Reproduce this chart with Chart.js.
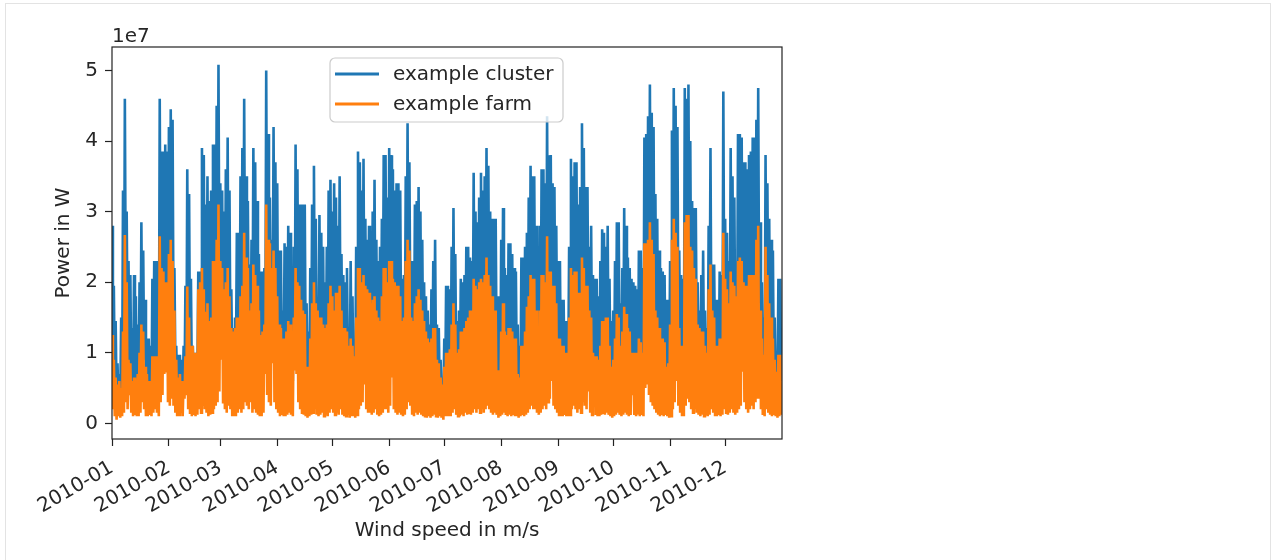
<!DOCTYPE html>
<html>
<head>
<meta charset="utf-8">
<script src="https://cdn.jsdelivr.net/npm/chart.js@4.4.0/dist/chart.umd.min.js"></script>
<style>
  html, body { margin: 0; padding: 0; background: #fff; }
  #frame { position: absolute; left: 5px; top: 3px; width: 1264px; height: 600px; border: 1px solid #e3e3e3; }
  #wrap { position: absolute; left: 0; top: 0; width: 1274px; height: 560px; }
</style>
</head>
<body>
<div id="frame"></div>
<div id="wrap"><canvas id="powerChart" width="1274" height="560"></canvas></div>
<script>
// power values in units of 1e7 W, one high and one low reading per day of 2010
const clusterMax = [
  2.8, 1.95, 1.45, 0.85, 0.7, 1.5, 3.3, 4.6, 3.0, 2.3,
  2.1, 1.35, 2.1, 1.8, 1.4, 2.0, 2.85, 2.45, 1.75, 1.2,
  1.2, 1.1, 2.05, 2.3, 2.3, 1.1, 4.6, 3.85, 3.85, 3.95,
  3.85, 4.2, 4.45, 4.3, 2.2, 1.1, 0.97, 0.97, 0.9, 1.1,
  1.95, 3.6, 3.25, 2.05, 1.1, 1.0, 1.0, 2.15, 2.15, 3.9,
  3.8, 3.1, 3.5, 3.15, 3.3, 3.95, 3.95, 4.5, 5.08, 3.4,
  3.3, 3.0, 3.6, 4.05, 3.3, 1.9, 1.35, 1.5, 2.7, 2.7,
  3.5, 3.9, 4.6, 3.5, 3.15, 2.25, 2.6, 3.9, 3.7, 3.15,
  2.4, 2.15, 2.15, 2.2, 5.0, 4.1, 3.2, 2.6, 4.2, 3.7,
  3.4, 2.45, 2.45, 1.6, 2.55, 2.5, 2.8, 2.7, 1.5, 2.5,
  3.95, 3.6, 3.1, 3.1, 3.1, 3.1, 1.7, 1.3, 2.2, 3.1,
  3.65, 2.9, 1.6, 2.95, 2.7, 2.5, 2.0, 2.5, 3.3, 3.45,
  3.0, 3.4, 3.2, 2.8, 3.5, 2.4, 2.1, 2.0, 2.2, 1.35,
  2.3, 1.8, 1.1, 2.5, 3.85, 3.7, 3.3, 3.75, 2.9, 2.6,
  2.8, 2.4, 3.0, 3.45, 2.6, 2.3, 2.5, 2.9, 3.8, 3.8,
  3.2, 3.9, 3.8, 3.6, 3.3, 3.4, 3.4, 3.3, 2.05, 2.1,
  3.5, 4.25, 3.7, 2.3, 2.3, 3.1, 3.15, 3.35, 3.0, 2.6,
  2.0, 1.8, 1.6, 1.4, 1.9, 2.3, 2.6, 1.4, 1.35, 0.9,
  0.55, 1.2, 1.95, 1.95, 1.9, 2.5, 3.05, 2.4, 1.45, 1.6,
  2.05, 2.0, 2.1, 2.5, 2.5, 2.35, 2.3, 3.55, 3.0, 2.85,
  3.2, 3.55, 3.3, 3.5, 3.9, 3.65, 3.0, 2.9, 2.9, 2.9,
  1.8, 1.8, 2.6, 3.05, 2.2, 2.1, 2.55, 2.55, 2.4, 2.2,
  2.15, 1.4, 1.1, 2.35, 2.35, 2.5, 2.7, 3.2, 3.65, 3.5,
  3.5, 2.8, 2.35, 2.8, 3.6, 3.6, 3.4, 4.35, 3.8, 3.8,
  3.4, 3.35, 2.8, 2.3, 2.3, 1.75, 1.75, 1.45, 1.45, 2.5,
  3.75, 3.5, 3.7, 3.7, 3.1, 3.35, 4.25, 3.9, 3.35, 3.35,
  2.5, 2.8, 2.1, 2.05, 2.05, 1.8, 2.3, 2.75, 2.7, 2.5,
  2.8, 2.05, 1.45, 1.6, 2.3, 2.85, 2.85, 1.7, 2.2, 3.05,
  2.8, 2.35, 2.2, 2.05, 2.0, 1.95, 1.9, 2.45, 2.45, 2.2,
  4.05, 4.1, 4.35, 4.8, 4.4, 4.2, 3.25, 2.9, 2.45, 2.2,
  2.15, 2.1, 1.75, 1.75, 2.3, 4.15, 4.75, 4.5, 4.2, 2.45,
  2.1, 2.05, 4.75, 4.6, 4.8, 4.0, 3.15, 3.05, 3.05, 2.0,
  1.6, 2.1, 2.45, 1.6, 1.35, 2.8, 3.9, 2.25, 2.25, 1.75,
  1.75, 2.15, 2.1, 4.7, 2.9, 2.7, 2.3, 3.9, 3.5, 3.2,
  2.3, 4.1, 4.1, 4.05, 3.7, 3.7, 3.6, 3.8, 3.85, 4.05,
  4.05, 4.3, 4.75, 2.85, 2.0, 1.5, 3.8, 3.4, 2.9, 2.6,
  2.45, 1.5, 0.9, 2.05, 2.05
];
const clusterMin = [
  0.9, 0.6, 0.35, 0.3, 0.3, 0.35, 0.8, 1.8, 1.2, 0.7,
  0.6, 0.4, 0.45, 0.4, 0.45, 0.7, 1.0, 0.9, 0.5, 0.45,
  0.4, 0.4, 0.6, 0.7, 0.6, 0.4, 1.6, 1.4, 1.3, 1.2,
  1.3, 1.5, 1.6, 1.4, 0.9, 0.5, 0.4, 0.45, 0.4, 0.5,
  0.6, 1.2, 0.9, 0.6, 0.6, 0.6, 0.6, 1.1, 1.2, 1.3,
  1.2, 1.0, 1.0, 0.9, 0.9, 1.4, 1.4, 1.6, 1.9, 1.4,
  1.3, 1.1, 1.2, 1.3, 1.1, 0.8, 0.7, 0.8, 0.9, 0.9,
  1.1, 1.2, 1.6, 1.4, 1.3, 1.0, 1.0, 1.3, 1.2, 1.1,
  0.9, 0.7, 0.8, 0.9, 1.8, 1.6, 1.5, 1.3, 1.5, 1.3,
  1.1, 0.8, 0.8, 0.7, 0.7, 0.8, 0.9, 0.8, 0.6, 0.9,
  1.3, 1.2, 1.2, 1.0, 1.0, 0.9, 0.45, 0.45, 0.7, 1.0,
  1.2, 1.0, 0.9, 0.9, 0.9, 0.8, 0.8, 0.8, 1.0, 1.2,
  1.1, 1.0, 1.1, 1.1, 1.2, 0.9, 0.8, 0.8, 0.8, 0.6,
  0.7, 0.6, 0.5, 0.9, 1.3, 1.3, 1.2, 1.3, 1.2, 1.1,
  1.1, 1.0, 1.0, 1.1, 0.9, 0.9, 0.9, 1.1, 1.3, 1.3,
  1.2, 1.4, 1.4, 1.2, 1.2, 1.2, 1.2, 1.1, 0.9, 0.9,
  1.4, 1.5, 1.5, 0.9, 0.9, 1.0, 1.1, 1.1, 1.0, 0.9,
  0.8, 0.7, 0.7, 0.7, 0.7, 0.8, 0.8, 0.5, 0.5, 0.4,
  0.3, 0.5, 0.6, 0.6, 0.6, 0.8, 1.0, 0.8, 0.6, 0.6,
  0.8, 0.8, 0.8, 0.9, 0.9, 1.0, 1.0, 1.2, 1.2, 1.1,
  1.2, 1.2, 1.2, 1.3, 1.4, 1.3, 1.2, 1.1, 1.0, 1.0,
  0.45, 0.45, 0.8, 1.0, 0.8, 0.75, 0.8, 0.8, 0.8, 0.7,
  0.7, 0.4, 0.4, 0.7, 0.7, 0.8, 1.0, 1.1, 1.3, 1.2,
  1.2, 1.0, 0.8, 1.0, 1.3, 1.3, 1.2, 1.6, 1.3, 1.3,
  1.2, 1.2, 1.0, 0.7, 0.7, 0.65, 0.65, 0.6, 0.6, 0.9,
  1.3, 1.3, 1.3, 1.3, 1.1, 1.1, 1.4, 1.3, 1.2, 1.2,
  1.0, 0.9, 0.6, 0.6, 0.55, 0.55, 0.65, 0.9, 0.9, 0.9,
  0.9, 0.65, 0.5, 0.55, 0.7, 0.95, 0.9, 0.65, 0.8, 1.0,
  0.95, 0.8, 0.8, 0.6, 0.6, 0.6, 0.6, 0.7, 0.7, 0.6,
  1.5, 1.5, 1.6, 1.7, 1.6, 1.4, 1.0, 0.9, 0.8, 0.7,
  0.7, 0.7, 0.5, 0.5, 0.8, 1.6, 1.7, 1.6, 1.5, 0.8,
  0.65, 0.65, 1.7, 1.8, 1.8, 1.5, 1.5, 1.3, 1.2, 0.85,
  0.8, 0.8, 0.8, 0.65, 0.6, 1.1, 1.3, 1.0, 0.9, 0.65,
  0.65, 0.7, 0.7, 1.6, 1.2, 1.1, 1.0, 1.3, 1.2, 1.2,
  1.1, 1.4, 1.4, 1.4, 1.2, 1.2, 1.2, 1.3, 1.3, 1.3,
  1.3, 1.6, 1.7, 1.0, 0.7, 0.6, 1.5, 1.3, 1.0, 0.9,
  0.7, 0.55, 0.45, 0.6, 0.6
];
const farmMax = [
  1.25, 0.9, 0.65, 0.55, 0.6, 0.5, 1.3, 2.67, 2.0, 0.9,
  0.85, 0.6, 0.65, 0.6, 0.7, 1.0, 1.4, 1.3, 0.8, 0.7,
  0.6, 0.6, 0.95, 0.95, 0.95, 0.6, 2.65, 2.2, 2.15, 2.0,
  2.0, 2.4, 2.6, 2.3, 1.6, 0.9, 0.65, 0.7, 0.6, 0.6,
  0.95, 1.94, 1.5, 1.1, 1.1, 1.0, 1.0, 1.9, 2.0, 2.2,
  1.9, 1.58, 1.7, 1.45, 1.5, 2.3, 2.3, 2.6, 3.1, 2.3,
  2.2, 1.9, 2.0, 2.2, 1.8, 1.35, 1.3, 1.35, 1.5, 1.5,
  1.8, 1.95, 2.7, 2.35, 2.2, 1.6, 1.7, 2.25, 2.1, 1.95,
  1.6, 1.25, 1.3, 1.4, 3.1, 2.6, 2.55, 2.2, 2.45, 2.2,
  1.8, 1.4, 1.35, 1.2, 1.2, 1.3, 1.45, 1.4, 1.1, 1.5,
  2.2, 2.0, 1.95, 1.75, 1.6, 1.55, 0.8, 0.8, 1.2, 1.7,
  2.0, 1.7, 1.6, 1.5, 1.5, 1.4, 1.35, 1.4, 1.7, 1.95,
  1.8, 1.6, 1.85, 1.85, 1.95, 1.6, 1.35, 1.35, 1.3, 1.1,
  1.2, 1.1, 0.95, 1.5, 2.2, 2.2, 2.0, 2.1, 1.95, 1.9,
  1.85, 1.7, 1.75, 1.8, 1.6, 1.5, 1.45, 1.8, 2.2, 2.2,
  2.0, 2.3, 2.3, 2.05, 2.0, 1.95, 1.95, 1.8, 1.45, 1.5,
  2.3, 2.6, 2.45, 1.5, 1.45, 1.7, 1.8, 1.9, 1.75, 1.6,
  1.45, 1.3, 1.2, 1.15, 1.2, 1.35, 1.35, 0.9, 0.85, 0.65,
  0.55, 0.8, 1.0, 1.0, 1.05, 1.4, 1.7, 1.4, 1.0, 1.05,
  1.3, 1.3, 1.35, 1.45, 1.5, 1.6, 1.6, 2.05, 1.95, 1.9,
  2.0, 2.05, 2.0, 2.1, 2.35, 2.1, 1.95, 1.8, 1.6, 1.6,
  0.75, 0.75, 1.3, 1.7, 1.3, 1.25, 1.35, 1.35, 1.3, 1.2,
  1.2, 0.7, 0.65, 1.1, 1.1, 1.3, 1.65, 1.8, 2.1, 2.05,
  2.05, 1.6, 1.35, 1.6, 2.1, 2.1, 2.0, 2.65, 2.15, 2.15,
  1.95, 1.95, 1.7, 1.2, 1.2, 1.1, 1.1, 1.0, 1.0, 1.5,
  2.2, 2.1, 2.15, 2.15, 1.85, 1.85, 2.35, 2.2, 1.95, 1.95,
  1.6, 1.5, 1.0, 0.95, 0.95, 0.9, 1.1, 1.45, 1.45, 1.5,
  1.5, 1.1, 0.8, 0.9, 1.2, 1.55, 1.5, 1.1, 1.3, 1.65,
  1.55, 1.35, 1.3, 1.0, 1.0, 1.0, 1.0, 1.2, 1.15, 1.0,
  2.55, 2.55, 2.6, 2.85, 2.6, 2.4, 1.6, 1.5, 1.35, 1.2,
  1.2, 1.15, 0.8, 0.85, 1.4, 2.6, 2.9, 2.7, 2.5, 1.35,
  1.1, 1.1, 2.85, 2.95, 2.95, 2.5, 2.45, 2.2, 2.05, 1.4,
  1.35, 1.3, 1.3, 1.1, 1.0, 1.9, 2.25, 1.6, 1.5, 1.1,
  1.1, 1.2, 1.2, 2.7, 2.05, 1.9, 1.7, 2.15, 2.0, 1.95,
  1.8, 2.3, 2.35, 2.3, 2.0, 1.95, 1.95, 2.1, 2.1, 2.1,
  2.1, 2.6, 2.8, 1.6, 1.2, 0.97, 2.5, 2.1, 1.7, 1.5,
  1.2, 0.9, 0.73, 0.97, 0.97
];
const farmMin = [
  0.2, 0.1, 0.05, 0.1, 0.08, 0.1, 0.15, 0.3, 0.2, 0.4,
  0.15, 0.1, 0.12, 0.1, 0.1, 0.15, 0.3, 0.2, 0.1, 0.1,
  0.12, 0.1, 0.15, 0.2, 0.15, 0.1, 0.3, 0.4, 0.7, 0.72,
  0.3, 0.25, 0.35, 0.25, 0.15, 0.1, 0.12, 0.15, 0.1, 0.35,
  0.4, 0.2, 0.15, 0.1, 0.12, 0.1, 0.12, 0.2, 0.15, 0.25,
  0.2, 0.15, 0.1, 0.12, 0.15, 0.2, 0.25, 0.3, 0.45, 0.9,
  0.3, 0.2, 0.15, 0.25, 0.2, 0.1, 0.12, 0.1, 0.15, 0.2,
  0.15, 0.2, 0.3, 0.25, 0.2, 0.3, 0.15, 0.2, 0.15, 0.12,
  0.1, 0.1, 0.15, 0.7, 0.4, 0.3, 0.25, 0.85, 0.3, 0.2,
  0.15, 0.1, 0.12, 0.1, 0.1, 0.12, 0.15, 0.12, 0.1, 0.75,
  0.7, 0.3, 0.2, 0.15, 0.12, 0.1, 0.08, 0.1, 0.12, 0.15,
  0.2, 0.12, 0.1, 0.12, 0.15, 0.1, 0.12, 0.1, 0.15, 0.2,
  0.15, 0.12, 0.15, 0.12, 0.2, 0.12, 0.1, 0.1, 0.12, 0.08,
  0.1, 0.1, 0.08, 0.12, 0.2, 0.25, 0.3, 0.55, 0.2, 0.15,
  0.15, 0.12, 0.15, 0.2, 0.12, 0.1, 0.12, 0.15, 0.2, 0.2,
  0.15, 0.25, 0.65, 0.2, 0.15, 0.12, 0.15, 0.12, 0.1, 0.12,
  0.2, 0.3, 0.25, 0.12, 0.1, 0.15, 0.12, 0.15, 0.12, 0.1,
  0.1, 0.08, 0.1, 0.08, 0.1, 0.12, 0.1, 0.08, 0.1, 0.08,
  0.05, 0.1, 0.12, 0.1, 0.1, 0.15, 0.2, 0.12, 0.1, 0.1,
  0.12, 0.1, 0.15, 0.12, 0.15, 0.12, 0.15, 0.2, 0.15, 0.2,
  0.15, 0.2, 0.15, 0.2, 0.25, 0.2, 0.15, 0.12, 0.15, 0.12,
  0.08, 0.1, 0.12, 0.15, 0.12, 0.1, 0.12, 0.1, 0.12, 0.1,
  0.1, 0.08, 0.1, 0.12, 0.1, 0.12, 0.15, 0.2, 0.25, 0.2,
  0.2, 0.15, 0.12, 0.15, 0.2, 0.25, 0.2, 0.3, 0.35, 0.6,
  0.25, 0.2, 0.15, 0.12, 0.1, 0.1, 0.12, 0.1, 0.1, 0.12,
  0.2, 0.25, 0.2, 0.15, 0.2, 0.15, 0.3, 0.25, 0.2, 0.45,
  0.15, 0.12, 0.55, 0.12, 0.1, 0.1, 0.12, 0.15, 0.12, 0.15,
  0.12, 0.1, 0.08, 0.1, 0.12, 0.15, 0.12, 0.1, 0.12, 0.15,
  0.12, 0.1, 0.12, 0.4, 0.12, 0.1, 0.12, 0.1, 0.12, 0.1,
  0.5, 0.55, 0.4, 0.3, 0.25, 0.2, 0.15, 0.12, 0.1, 0.12,
  0.1, 0.12, 0.1, 0.08, 0.1, 0.2, 0.3, 0.6, 0.25, 0.15,
  0.12, 0.1, 0.25, 0.35, 0.3, 0.2, 0.15, 0.2, 0.15, 0.12,
  0.1, 0.12, 0.1, 0.12, 0.1, 0.12, 0.2, 0.15, 0.12, 0.1,
  0.12, 0.1, 0.12, 0.2, 0.15, 0.12, 0.15, 0.2, 0.15, 0.12,
  0.15, 0.2, 0.25, 0.73, 0.3, 0.2, 0.15, 0.2, 0.25, 0.2,
  0.3, 0.35, 0.35, 0.2, 0.12, 0.1, 0.2, 0.15, 0.12, 0.1,
  0.12, 0.1, 0.08, 0.1, 0.12
];

// month starts as day-of-year, and their tick labels
const monthStarts = [0, 31, 59, 90, 120, 151, 181, 212, 243, 273, 304, 334];
const monthLabels = ['2010-01', '2010-02', '2010-03', '2010-04', '2010-05', '2010-06',
                     '2010-07', '2010-08', '2010-09', '2010-10', '2010-11', '2010-12'];
const powerTicks = [0, 1, 2, 3, 4, 5];
const seriesNames = ['example cluster', 'example farm'];

const BLUE = '#1f77b4';
const ORANGE = '#ff7f0e';
const TEXT = '#262626';
const FONT = { family: 'DejaVu Sans', size: 20 };

// each day -> high reading then low reading
function dayPoints(highs, lows) {
  const pts = [];
  for (let d = 0; d < highs.length; d++) {
    pts.push({ x: d, y: highs[d] });
    pts.push({ x: d + 0.5, y: lows[d] });
  }
  return pts;
}

// matplotlib-like frame, offset text and legend box
const axesDecor = {
  id: 'axesDecor',
  afterDatasetsDraw(chart) {
    const { ctx, chartArea: a } = chart;
    ctx.save();
    ctx.strokeStyle = '#222';
    ctx.lineWidth = 1.2;
    ctx.strokeRect(a.left, a.top, a.right - a.left, a.bottom - a.top);

    ctx.font = '20px "DejaVu Sans"';
    ctx.fillStyle = TEXT;
    ctx.textAlign = 'left';
    ctx.textBaseline = 'alphabetic';
    ctx.fillText('1e7', a.left, a.top - 5);

    // legend
    const bx = 330, by = 58, bw = 233, bh = 64, r = 5;
    ctx.beginPath();
    ctx.moveTo(bx + r, by);
    ctx.arcTo(bx + bw, by, bx + bw, by + bh, r);
    ctx.arcTo(bx + bw, by + bh, bx, by + bh, r);
    ctx.arcTo(bx, by + bh, bx, by, r);
    ctx.arcTo(bx, by, bx + bw, by, r);
    ctx.closePath();
    ctx.fillStyle = 'rgba(255,255,255,0.8)';
    ctx.fill();
    ctx.strokeStyle = '#cccccc';
    ctx.lineWidth = 1.2;
    ctx.stroke();

    const rows = [[seriesNames[0], BLUE, 74], [seriesNames[1], ORANGE, 104]];
    rows.forEach(([name, col, y]) => {
      ctx.strokeStyle = col;
      ctx.lineWidth = 3;
      ctx.beginPath();
      ctx.moveTo(bx + 5, y);
      ctx.lineTo(bx + 49, y);
      ctx.stroke();
      ctx.fillStyle = TEXT;
      ctx.textBaseline = 'middle';
      ctx.fillText(name, bx + 63, y + 1);
    });
    ctx.restore();
  }
};

new Chart(document.getElementById('powerChart'), {
  type: 'line',
  data: {
    datasets: [
      {
        label: seriesNames[0],
        data: dayPoints(clusterMax, clusterMin),
        borderColor: BLUE,
        backgroundColor: BLUE,
        borderWidth: 2.6,
        pointRadius: 0,
        tension: 0,
        order: 1
      },
      {
        label: seriesNames[1],
        data: dayPoints(farmMax, farmMin),
        borderColor: ORANGE,
        backgroundColor: ORANGE,
        borderWidth: 2.6,
        pointRadius: 0,
        tension: 0,
        order: 0
      }
    ]
  },
  options: {
    responsive: false,
    animation: false,
    events: [],
    layout: { padding: { left: 0, right: 492, top: 47, bottom: 0 } },
    plugins: { legend: { display: false }, tooltip: { enabled: false } },
    scales: {
      x: {
        type: 'linear',
        min: 0,
        max: 364.96,
        afterBuildTicks: s => { s.ticks = monthStarts.map(v => ({ value: v })); },
        afterFit: s => { s.height = 121; },
        ticks: {
          autoSkip: false,
          minRotation: 30,
          maxRotation: 30,
          padding: 10,
          color: TEXT,
          font: FONT,
          callback: v => monthLabels[monthStarts.indexOf(v)]
        },
        grid: { drawOnChartArea: false, drawTicks: true, tickLength: 7, color: '#222', tickWidth: 1.2 },
        border: { display: false },
        title: { display: true, text: 'Wind speed in m/s', color: TEXT, font: FONT, padding: { top: 0, bottom: 17 } }
      },
      y: {
        type: 'linear',
        min: -0.222,
        max: 5.332,
        afterBuildTicks: s => { s.ticks = powerTicks.map(v => ({ value: v })); },
        afterFit: s => { s.width = 112; },
        ticks: { padding: 7, color: TEXT, font: FONT, callback: v => String(v) },
        grid: { drawOnChartArea: false, drawTicks: true, tickLength: 7, color: '#222', tickWidth: 1.2 },
        border: { display: false },
        title: { display: true, text: 'Power in W', color: TEXT, font: FONT, padding: { top: 52, bottom: 0 } }
      }
    }
  },
  plugins: [axesDecor]
});
</script>
</body>
</html>
